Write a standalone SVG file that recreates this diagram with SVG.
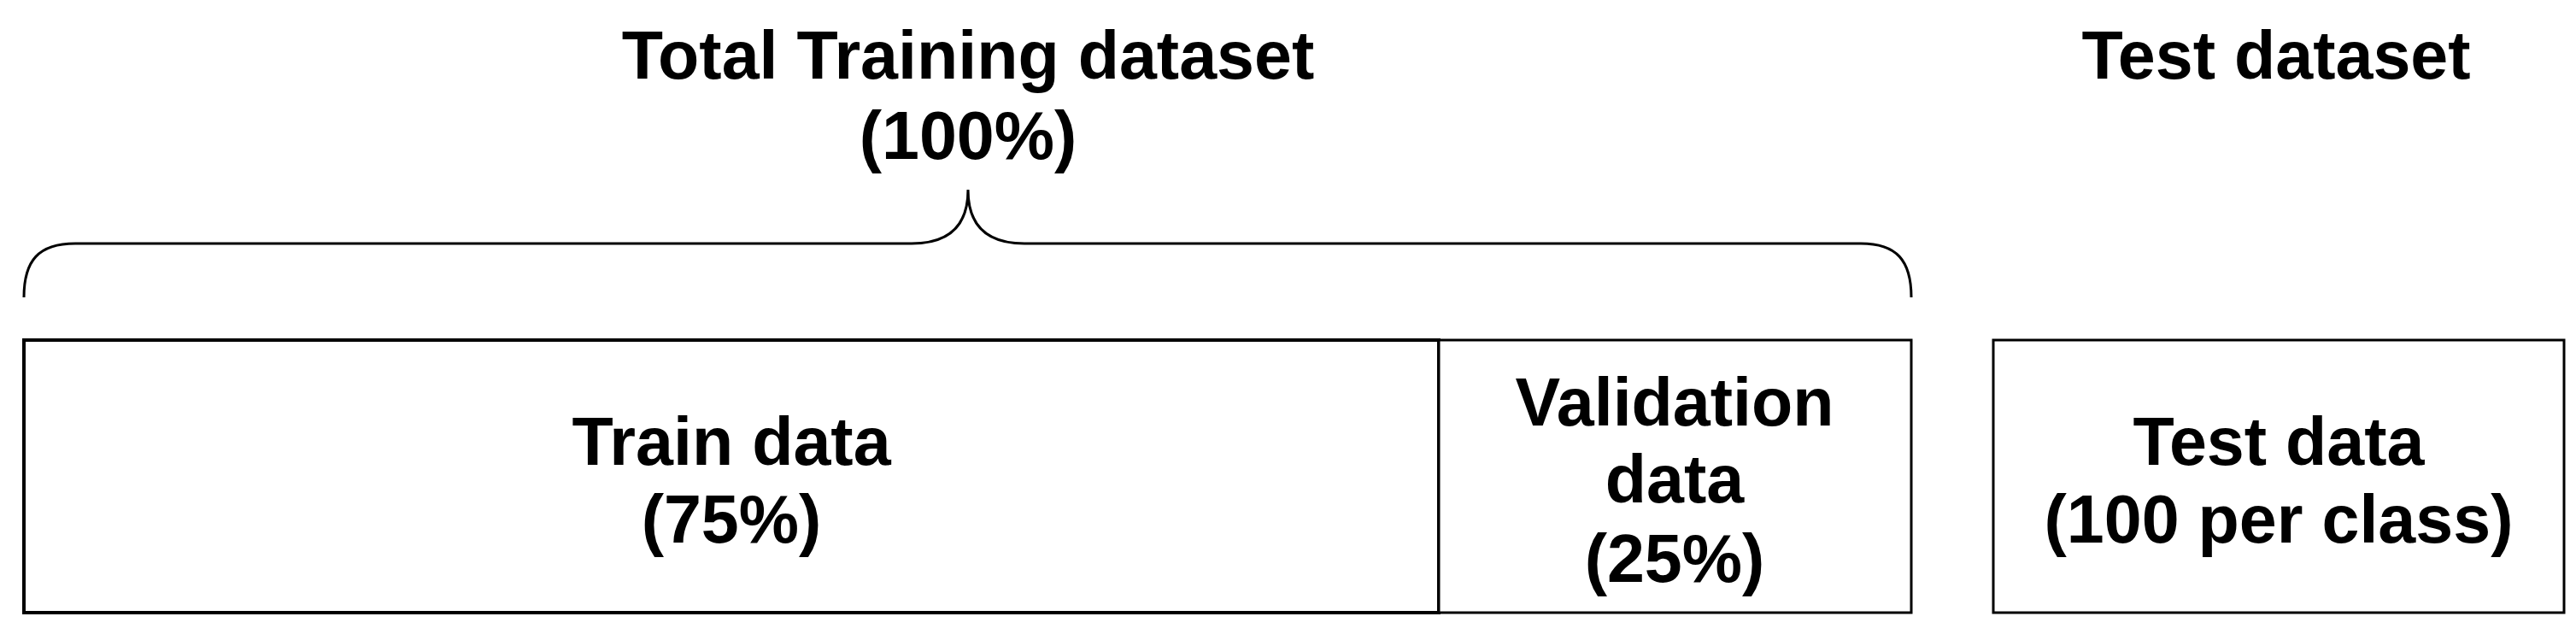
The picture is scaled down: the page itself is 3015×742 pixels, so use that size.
<svg xmlns="http://www.w3.org/2000/svg" width="3015" height="742" viewBox="0 0 3015 742">
<style>
.t{font-family:"Liberation Sans",Arial,sans-serif;font-weight:bold;font-size:79px;fill:#000;text-anchor:middle}
.box{fill:#fff;stroke:#000}
</style>
<rect width="3015" height="742" fill="#fff"/>
<g id="title-total">
<text class="t" x="1133" y="92">Total Training dataset</text>
<text class="t" x="1133" y="186">(100%)</text>
</g>
<g id="title-test">
<text class="t" x="2664" y="92">Test dataset</text>
</g>
<g id="connectors">
<path d="M 28 348 C 28 305 45 285 88 285 L 1067 285 C 1110 285 1133 265 1133 222 C 1133 265 1156 285 1199 285 L 2178 285 C 2220 285 2237 305 2237 348" fill="none" stroke="#000" stroke-width="3"/>
</g>
<g id="train">
<rect class="box" x="28" y="398" width="1656" height="319" stroke-width="4"/>
<text class="t" x="856" y="544">Train data</text>
<text class="t" x="856" y="635">(75%)</text>
</g>
<g id="validation">
<rect class="box" x="1684" y="398" width="553" height="319" stroke-width="3"/>
<text class="t" x="1960" y="498">Validation</text>
<text class="t" x="1960" y="588">data</text>
<text class="t" x="1960" y="681">(25%)</text>
</g>
<g id="test">
<rect class="box" x="2333" y="398" width="668" height="319" stroke-width="3"/>
<text class="t" x="2667" y="544">Test data</text>
<text class="t" x="2667" y="635">(100 per class)</text>
</g>
</svg>
